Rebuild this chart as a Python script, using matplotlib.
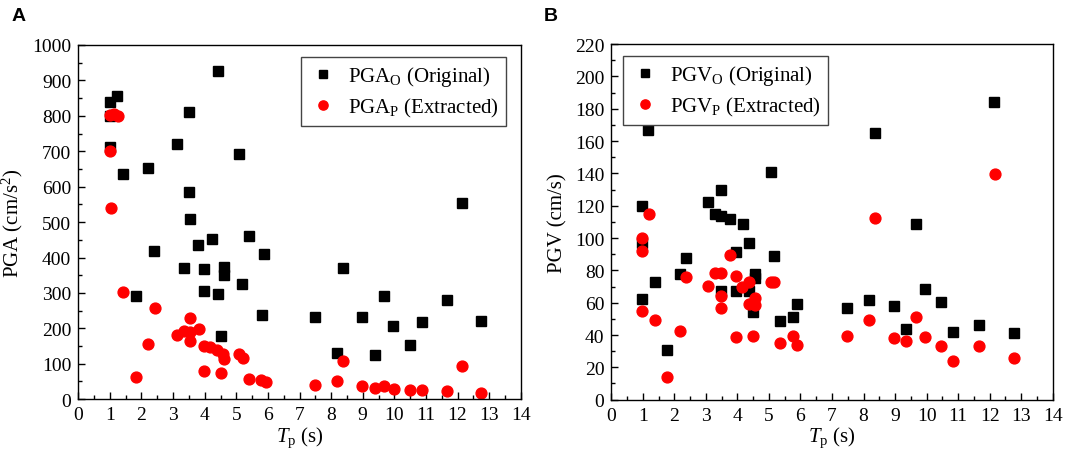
import numpy as np
import matplotlib
matplotlib.use("Agg")
import matplotlib.pyplot as plt
from matplotlib.ticker import MultipleLocator

plt.rcParams['font.family'] = ['Liberation Serif', 'DejaVu Serif']
plt.rcParams['mathtext.fontset'] = 'custom'
plt.rcParams['mathtext.rm'] = 'Liberation Serif'
plt.rcParams['mathtext.it'] = 'Liberation Serif:italic'

# ---- panel A: PGA ----
tp_pga_o = [1.0, 1.01, 1.01, 1.22, 1.43, 1.83, 2.22, 2.41, 3.12, 3.33, 3.51, 3.51, 3.52, 3.80,
            3.99, 3.99, 4.22, 4.41, 4.41, 4.51, 4.61, 4.61, 5.10, 5.19, 5.41, 5.80, 5.89,
            7.49, 8.19, 8.38, 8.98, 9.38, 9.68, 9.96, 10.49, 10.86, 11.65, 12.15, 12.75]
pga_o = [800, 840, 713, 856, 635, 290, 652, 419, 720, 370, 812, 584, 508, 434,
         368, 305, 453, 928, 297, 178, 373, 351, 692, 324, 460, 238, 411,
         233, 130, 370, 231, 126, 290, 208, 154, 219, 281, 554, 220]

tp_pga_p = [1.0, 1.12, 1.25, 1.01, 1.04, 1.43, 1.83, 2.22, 2.43, 3.12, 3.33, 3.52, 3.52, 3.52,
            3.82, 3.99, 3.99, 4.17, 4.38, 4.51, 4.59, 4.61, 5.10, 5.22, 5.41, 5.78, 5.94,
            7.49, 8.19, 8.38, 8.98, 9.38, 9.68, 9.98, 10.49, 10.86, 11.68, 12.15, 12.75]
pga_p = [803, 805, 800, 702, 540, 302, 64, 155, 258, 181, 193, 229, 189, 165,
         198, 151, 80, 148, 140, 74, 127, 113, 127, 115, 57, 54, 49,
         41, 52, 109, 38, 33, 38, 28, 27, 27, 24, 94, 17]

# ---- panel B: PGV ----
tp_pgv_o = [0.97, 0.97, 0.97, 1.16, 1.38, 1.77, 2.17, 2.38, 3.06, 3.28, 3.49, 3.49, 3.49, 3.77,
            3.96, 3.96, 4.17, 4.36, 4.36, 4.49, 4.57, 4.57, 5.07, 5.15, 5.36, 5.75, 5.88,
            7.46, 8.16, 8.37, 8.97, 9.36, 9.66, 9.95, 10.47, 10.85, 11.66, 12.14, 12.77]
pgv_o = [120, 97, 62, 167, 72.6, 31, 77.7, 87.6, 122.5, 114.8, 130, 113.4, 67.4, 111.7,
         91.2, 67.4, 108.7, 96.9, 67, 54, 77.7, 75, 140.6, 88.7, 48.5, 51, 59.2,
         56.5, 61.8, 165, 57.8, 43.7, 108.7, 68.5, 60.2, 42, 46.2, 184.3, 41.2]

tp_pgv_p = [0.97, 0.97, 0.97, 1.19, 1.38, 1.77, 2.17, 2.38, 3.06, 3.28, 3.49, 3.49, 3.49, 3.75,
            3.96, 3.96, 4.15, 4.36, 4.36, 4.49, 4.57, 4.57, 5.07, 5.17, 5.36, 5.75, 5.88,
            7.46, 8.16, 8.37, 8.97, 9.36, 9.66, 9.95, 10.47, 10.85, 11.66, 12.16, 12.77]
pgv_p = [100, 92.2, 55, 114.8, 49.5, 13.8, 42.3, 75.7, 70.5, 78.2, 78.2, 64.3, 56.7, 89.7,
         76.3, 38.6, 69.5, 72.6, 59.2, 39.2, 62.7, 58.6, 73, 72.6, 35, 39.6, 33.8,
         39.2, 49.5, 112.2, 38, 36.6, 51, 38.6, 33, 24.1, 33.4, 139.6, 25.6]


def style_axes(ax, ymax, ymajor, yminor):
    ax.set_xlim(0, 14)
    ax.set_ylim(0, ymax)
    ax.xaxis.set_major_locator(MultipleLocator(1))
    ax.xaxis.set_minor_locator(MultipleLocator(0.5))
    ax.yaxis.set_major_locator(MultipleLocator(ymajor))
    ax.yaxis.set_minor_locator(MultipleLocator(yminor))
    ax.tick_params(which='both', direction='in', top=False, right=False, labelsize=14, pad=5)
    ax.tick_params(which='major', length=5, width=1)
    ax.tick_params(which='minor', length=3, width=1)
    for s in ax.spines.values():
        s.set_linewidth(1.0)
    ax.set_xlabel(r'$T_\mathrm{p}$ (s)', fontsize=15, labelpad=1)


def add_legend(ax, loc, anchor):
    ax.legend(loc=loc, bbox_to_anchor=anchor, borderaxespad=0, fontsize=15, frameon=True,
              fancybox=False, edgecolor='#444444', framealpha=1, handletextpad=0.5,
              borderpad=0.35, labelspacing=0.35, markerscale=0.85, handlelength=1.4)


fig = plt.figure(figsize=(10.65, 4.6), dpi=100)
ax1 = fig.add_axes([0.0735, 0.130, 0.4155, 0.770])
ax2 = fig.add_axes([0.574, 0.129, 0.4145, 0.773])

ms = 7.3
ax1.plot(tp_pga_o, pga_o, ls='none', marker='s', ms=ms, color='black', label=r'$\mathrm{PGA_O}$ (Original)')
ax1.plot(tp_pga_p, pga_p, ls='none', marker='o', ms=ms + 0.5, color='#ff0000', mec='#ff0000',
         label=r'$\mathrm{PGA_P}$ (Extracted)')
style_axes(ax1, 1000, 100, 50)
ax1.set_ylabel(r'PGA (cm/s$^2$)', fontsize=15, labelpad=5)
add_legend(ax1, 'upper right', (0.966, 0.966))

ax2.plot(tp_pgv_o, pgv_o, ls='none', marker='s', ms=ms, color='black', label=r'$\mathrm{PGV_O}$ (Original)')
ax2.plot(tp_pgv_p, pgv_p, ls='none', marker='o', ms=ms + 0.5, color='#ff0000', mec='#ff0000',
         label=r'$\mathrm{PGV_P}$ (Extracted)')
style_axes(ax2, 220, 20, 10)
ax2.set_ylabel('PGV (cm/s)', fontsize=15, labelpad=5)
add_legend(ax2, 'upper left', (0.026, 0.966))

fig.text(0.011, 0.983, 'A', fontsize=14, fontweight='bold', family='Liberation Sans', va='top')
fig.text(0.511, 0.983, 'B', fontsize=14, fontweight='bold', family='Liberation Sans', va='top')

fig.savefig('out.png', dpi=100)
